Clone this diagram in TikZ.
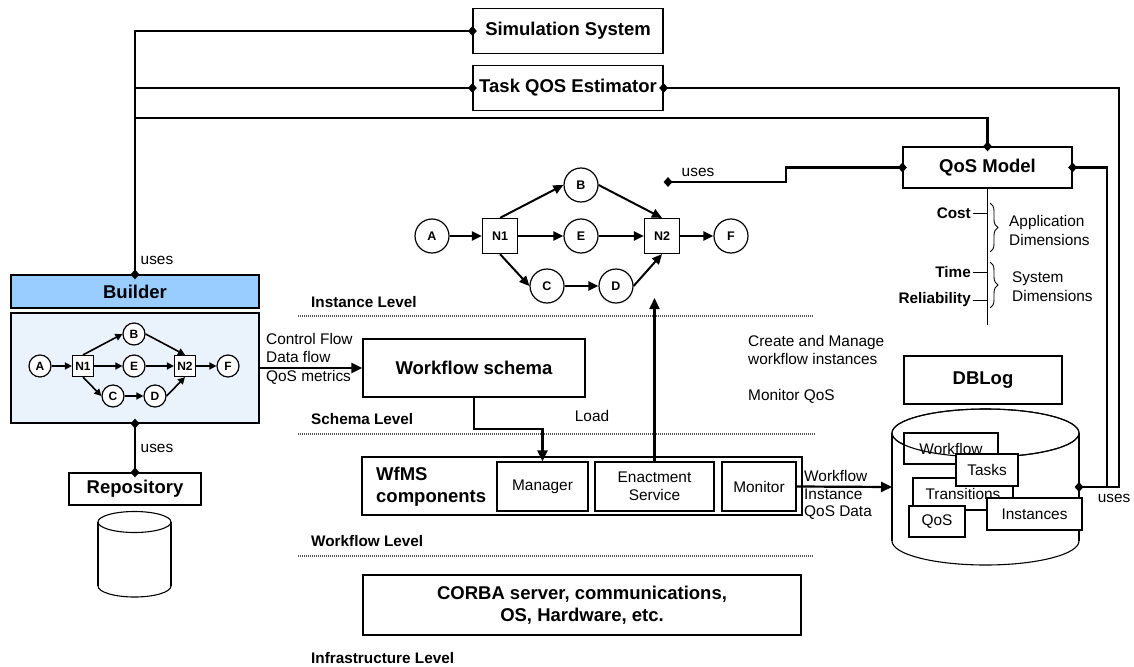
\documentclass[tikz,border=0pt]{standalone}
\usepackage{fontspec}
\setmainfont{Liberation Sans}
\usetikzlibrary{arrows.meta,shapes.geometric,decorations.pathreplacing}
\definecolor{builderblue}{RGB}{153,204,255}
\definecolor{canvasblue}{RGB}{234,242,252}
\definecolor{levelgray}{RGB}{80,80,80}
\newcommand{\fBig}{\fontsize{18.5}{22}\selectfont\bfseries}
\newcommand{\fMid}{\fontsize{15.3}{18}\selectfont\bfseries}
\newcommand{\fReg}{\fontsize{15.4}{18.5}\selectfont}
\newcommand{\fGl}{\fontsize{12.5}{14}\selectfont\bfseries}
\newcommand{\fMini}{\fontsize{12}{14}\selectfont\bfseries}
\begin{document}
\begin{tikzpicture}[x=1pt,y=-1pt,
  box/.style={draw,line width=1.2pt,fill=white,inner sep=0pt},
  conn/.style={line width=2.2pt},
  thinline/.style={line width=1.1pt},
  dia/.style={diamond,fill=black,inner sep=0pt,minimum width=9pt,minimum height=10pt},
  lvl/.style={line width=1.8pt,levelgray,dash pattern=on 1.2pt off 0.8pt},
  gc/.style={circle,draw,line width=1.2pt,fill=white,minimum size=34pt,inner sep=0pt,font=\fGl},
  gs/.style={rectangle,draw,line width=1.2pt,fill=white,minimum size=35pt,inner sep=0pt,font=\fGl},
  ga/.style={line width=2pt,-{Triangle[length=10pt,width=9pt]}},
  mc/.style={circle,draw,line width=1.2pt,fill=white,minimum size=22pt,inner sep=0pt,font=\fMini},
  ms/.style={rectangle,draw,line width=1.2pt,fill=white,minimum size=21pt,inner sep=0pt,font=\fMini},
  ma/.style={line width=1.6pt,-{Triangle[length=7pt,width=7pt]}},
  arr/.style={line width=2.2pt,-{Triangle[length=11pt,width=10pt]}},
  lbl/.style={inner sep=0pt,font=\fReg,align=left},
  lvltxt/.style={anchor=west,inner sep=0pt,font=\fMid},
  dimtxt/.style={anchor=east,inner sep=2pt,font=\fMid},
  brc/.style={decorate,decoration={brace,amplitude=8pt},line width=0.9pt},
]
\useasboundingbox (0,0) rectangle (1134,666);

% ---------- top boxes ----------
\node[box,minimum width=190pt,minimum height=45pt] (simsys) at (568,31) {\fBig Simulation System};
\node[box,minimum width=190pt,minimum height=45pt] (tqe) at (568,88) {\fBig Task QOS Estimator};
\node[box,minimum width=169pt,minimum height=41pt] (qosm) at (987.5,167.5) {\fBig QoS Model};

% ---------- builder ----------
\node[box,fill=builderblue,minimum width=248pt,minimum height=33pt] (builder) at (135,291.5) {\fBig Builder};
\node[box,fill=canvasblue,minimum width=248pt,minimum height=110pt] (canvas) at (135,368) {};
\node[box,minimum width=132pt,minimum height=32pt] (repo) at (135,489) {\fBig Repository};

% repository cylinder
\draw[thinline,fill=white] (134.5,586) ellipse [x radius=36.5, y radius=11];
\fill[white] (98,522) rectangle (171,586);
\draw[thinline] (98,522) -- (98,586) (171,522) -- (171,586);
\draw[thinline,fill=white] (134.5,522) ellipse [x radius=36.5, y radius=10.5];

% mini graph
\node[mc] (mA) at (40,366) {A};
\node[ms] (mN1) at (83,366) {N1};
\node[mc] (mB) at (134,334) {B};
\node[mc] (mE) at (134,366) {E};
\node[mc] (mC) at (113,396) {C};
\node[mc] (mD) at (155,396) {D};
\node[ms] (mN2) at (185,366) {N2};
\node[mc] (mF) at (228,366) {F};
\draw[ma] (mA) -- (mN1);
\draw[ma] (mN1.north) -- (mB.west);
\draw[ma] (mN1) -- (mE);
\draw[ma] (mN1.south) -- (mC.west);
\draw[ma] (mB.east) -- (mN2.north);
\draw[ma] (mE) -- (mN2);
\draw[ma] (mC) -- (mD);
\draw[ma] (mD.east) -- (mN2.south);
\draw[ma] (mN2) -- (mF);

% ---------- central graph ----------
\node[gc] (gA) at (432,236) {A};
\node[gs] (gN1) at (500,236) {N1};
\node[gc] (gB) at (581,185) {B};
\node[gc] (gE) at (581,236) {E};
\node[gc] (gC) at (547,286) {C};
\node[gc] (gD) at (616,286) {D};
\node[gs] (gN2) at (662,236) {N2};
\node[gc] (gF) at (731,236) {F};
\draw[ga] (gA) -- (gN1);
\draw[ga] (gN1.north) -- (gB.west);
\draw[ga] (gN1) -- (gE);
\draw[ga] (gN1.south) -- (gC.west);
\draw[ga] (gB.east) -- (gN2.north);
\draw[ga] (gE) -- (gN2);
\draw[ga] (gC) -- (gD);
\draw[ga] (gD.east) -- (gN2.south);
\draw[ga] (gN2) -- (gF);

% ---------- levels ----------
\draw[lvl] (298,316) -- (813,316);
\draw[lvl] (298,434) -- (815,434);
\draw[lvl] (298,556) -- (813,556);
\node[lvltxt] (lvinst) at (311,302) {Instance Level};
\node[lvltxt] (lvschema) at (311,419) {Schema Level};
\node[lvltxt] (lvwf) at (311,541) {Workflow Level};
\node[lvltxt] (lvinfra) at (311,658) {Infrastructure Level};

% ---------- schema / WfMS / CORBA ----------
\node[box,minimum width=222pt,minimum height=58pt] (wschema) at (474,368) {\fBig Workflow schema};
\node[box,minimum width=440pt,minimum height=58pt] (wfms) at (582,486) {};
\node[anchor=west,align=left,inner sep=0pt,font=\fBig] (wfmstxt) at (376,487) {WfMS\\components};
\node[box,minimum width=91pt,minimum height=49pt,font=\fReg] (manager) at (542.5,486.5) {Manager};
\node[box,minimum width=119pt,minimum height=49pt,font=\fReg,align=center] (enact) at (654.5,486.5) {Enactment\\Service};
\node[box,minimum width=74pt,minimum height=49pt,font=\fReg] (monitor) at (759,486.5) {Monitor};
\node[box,minimum width=438pt,minimum height=60pt,align=center,font=\fontsize{18.5}{21.5}\selectfont\bfseries] (corba) at (582,605) {CORBA server, communications,\\OS, Hardware, etc.};

% ---------- DB ----------
\draw[thinline,fill=white] (985.5,541) ellipse [x radius=93.5, y radius=24];
\fill[white] (892,433) rectangle (1079,541);
\draw[thinline] (892,433) -- (892,541) (1079,433) -- (1079,541);
\draw[thinline,fill=white] (985.5,433) ellipse [x radius=93.5, y radius=24];
\node[box,minimum width=94pt,minimum height=31pt,font=\fReg] (dbwf) at (951,448.5) {Workflow};
\draw[thinline] (985.5,433) ellipse [x radius=93.5, y radius=24];
\node[box,minimum width=100pt,minimum height=32pt,font=\fReg] (dbtr) at (963,494) {Transitions};
\node[box,minimum width=62pt,minimum height=32pt,font=\fReg] (dbtask) at (987,470) {Tasks};
\node[box,minimum width=56pt,minimum height=31pt,font=\fReg] (dbqos) at (937,521.5) {QoS};
\node[box,minimum width=95pt,minimum height=32pt,font=\fReg] (dbinst) at (1034.5,514) {Instances};
\coordinate (dbR) at (1079,487);
\coordinate (dbL) at (892,487);
\node[box,minimum width=158pt,minimum height=48pt] (dblog) at (983,380) {\fBig DBLog};

% ---------- QoS dimensions ----------
\coordinate (qaxis) at (987.5,325);
\draw[thinline] (qosm.south) -- (qaxis);
\node[dimtxt] (cost) at (973,213) {Cost};
\node[dimtxt] (time) at (973,272) {Time};
\node[dimtxt] (rel) at (973,300) {Reliability};
\draw[line width=1pt] (cost.east) -- (cost.east -| qaxis);
\draw[line width=1pt] (time.east) -- (time.east -| qaxis);
\draw[line width=1pt] (rel.east) -- (rel.east -| qaxis);
\draw[brc] (990,203) -- (990,252);
\draw[brc] (990,262) -- (990,308);
\node[lbl,anchor=west] (appdim) at (1009,230.5) {Application\\Dimensions};
\node[lbl,anchor=west] (sysdim) at (1012,286.5) {System\\Dimensions};

% ---------- connectors ----------
\coordinate (jq) at (987.5,118);
\coordinate (jr) at (1119,487);
\coordinate (jr2) at (1107,487);
\coordinate (js) at (786,182);
\coordinate (usesend) at (668,182);
\coordinate (lj) at (542.5,429);
\coordinate (insttip) at (654.5,298);

\draw[conn] (builder.north) |- (simsys.west);
\draw[conn] (builder.north) |- (tqe.west);
\draw[conn] (builder.north) |- (jq) -- (qosm.north);
\draw[conn] (tqe.east) -| (jr) -- (dbR);
\draw[conn] (qosm.east) -| (jr2);
\draw[conn] (qosm.west) -| (js) -- (usesend);
\draw[conn] (canvas.south) -- (repo.north);
\draw[arr] (canvas.east) -- (wschema.west);
\draw[arr] (wschema.south) |- (lj) -- (manager.north);
\draw[arr] (enact.north) -- (insttip);
\draw[arr] (monitor.east) -- (dbL);

\foreach \p/\n in {simsys.west/dd1,tqe.west/dd2,tqe.east/dd3,qosm.north/dd4,qosm.west/dd5,qosm.east/dd6,usesend/dd7,builder.north/dd8,canvas.south/dd9,repo.north/dd10,dbR/dd11}
  \node[dia] (\n) at (\p) {};

% ---------- free labels ----------
\node[lbl] (uses1) at (157,260) {uses};
\node[lbl] (uses2) at (157,448) {uses};
\node[lbl] (uses3) at (698,172) {uses};
\node[lbl] (uses4) at (1114,498) {uses};
\node[lbl] (loadtxt) at (592,416) {Load};
\node[lbl,anchor=west] (cfl) at (266,358.5) {Control Flow\\Data flow\\QoS metrics};
\node[lbl,anchor=west] (cmt) at (748,350) {Create and Manage\\workflow instances};
\node[lbl,anchor=west] (mqt) at (748,396) {Monitor QoS};
\node[lbl,anchor=west,font=\fontsize{15.4}{17.5}\selectfont] (wiq) at (804,495) {Workflow\\Instance\\QoS Data};
\end{tikzpicture}
\end{document}
